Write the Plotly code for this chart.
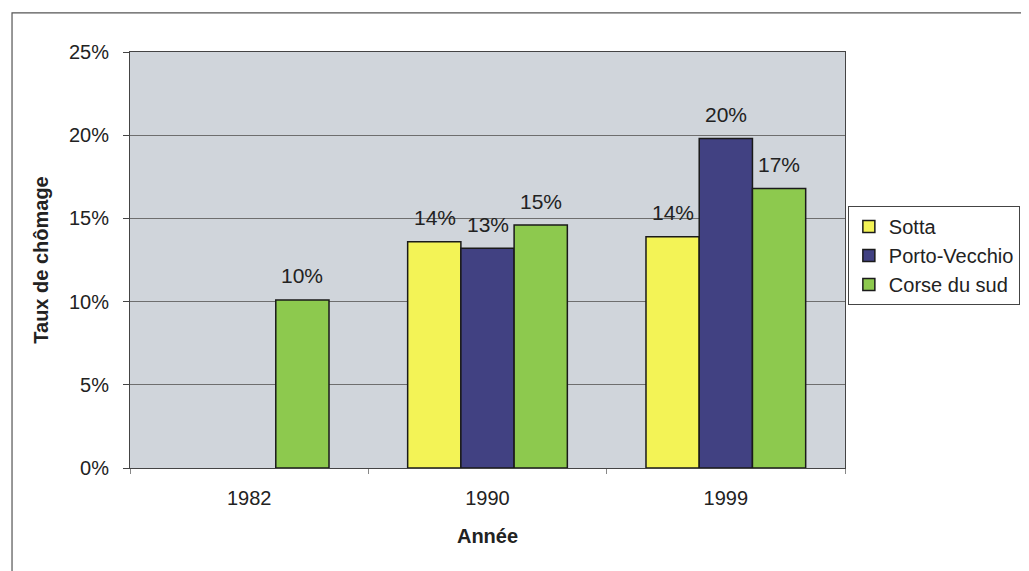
import plotly.graph_objects as go

YEARS = ["1982", "1990", "1999"]
SOTTA = [None, 0.136, 0.139]
PORTO_VECCHIO = [None, 0.132, 0.198]
CORSE_DU_SUD = [0.101, 0.146, 0.168]
Y_TICKS = [0, 0.05, 0.10, 0.15, 0.20, 0.25]

SERIES = [
    ("Sotta", SOTTA, "#F3F356"),
    ("Porto-Vecchio", PORTO_VECCHIO, "#414182"),
    ("Corse du sud", CORSE_DU_SUD, "#8DC94E"),
]

FONT = "Liberation Sans, Arial, sans-serif"
BAR_PX = 53  # approx pixel width of one bar, used to place the labels

fig = go.Figure()
for i, (name, values, color) in enumerate(SERIES):
    fig.add_trace(go.Bar(
        x=YEARS, y=values, name=name,
        marker=dict(color=color, line=dict(color="#1a1a1a", width=1.5)),
    ))
    # data labels sit a bit above the bar tops, like in Excel
    # (category index used for x, "1982" strings get read as numbers)
    for j, v in enumerate(values):
        if v is None:
            continue
        fig.add_annotation(
            x=j, y=v, text=f"{v:.0%}", showarrow=False,
            xshift=(i - 1) * BAR_PX, yshift=24, yanchor="middle",
            font=dict(size=21, color="#222"),
        )

fig.update_layout(
    width=1029, height=571,
    margin=dict(l=122, r=192, t=44, b=111),
    paper_bgcolor="white",
    plot_bgcolor="#D0D5DB",
    barmode="group",
    bargap=0.33,
    bargroupgap=0,
    font=dict(family=FONT, size=20, color="#222"),
    showlegend=True,
    legend=dict(
        x=1.004, y=0.63, xanchor="left", yanchor="top",
        bordercolor="#444", borderwidth=1,
        font=dict(size=20),
        itemwidth=30, tracegroupgap=2,
    ),
)

fig.update_yaxes(
    range=[0, 0.25], tickvals=Y_TICKS, tickformat=".0%",
    showgrid=True, gridcolor="#6e6e6e", gridwidth=1,
    showline=True, linecolor="#444", linewidth=1, mirror=True,
    ticks="outside", ticklen=6, tickcolor="#444", ticklabelstandoff=10,
    title=dict(text="<b>Taux de chômage</b>", font=dict(size=20), standoff=14),
    zeroline=False,
)
fig.update_xaxes(
    type="category", range=[-0.5, len(YEARS) - 0.5],
    showline=True, linecolor="#444", linewidth=1, mirror=True,
    ticks="outside", ticklen=5, tickcolor="#888", tickson="boundaries",
    ticklabelstandoff=12,
    title=dict(text="<b>Année</b>", font=dict(size=20), standoff=20),
)

# outer chart border
fig.add_shape(type="rect", xref="paper", yref="paper",
              x0=-0.165, x1=1.30, y0=-0.30, y1=1.094,
              line=dict(color="#555", width=1.2), layer="below")

fig.write_html("out.html")
